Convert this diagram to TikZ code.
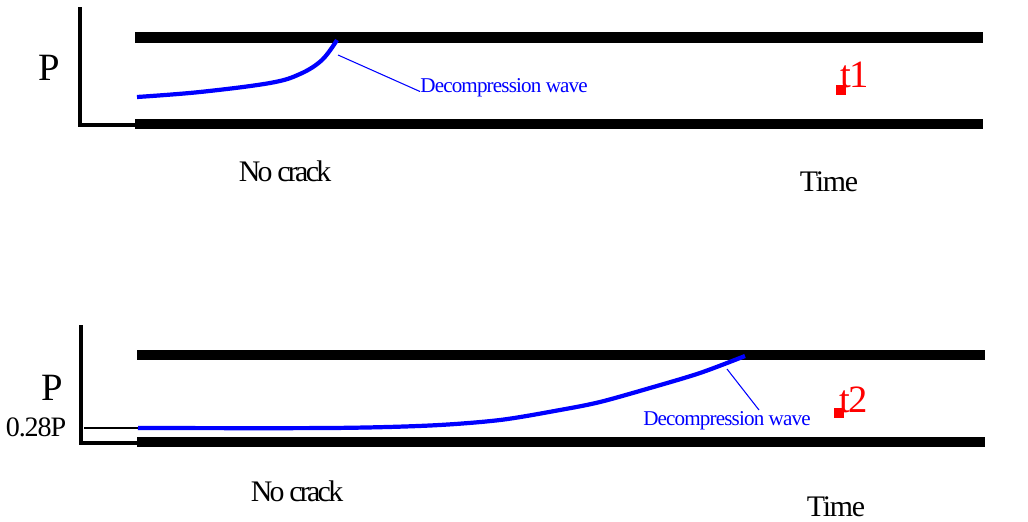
\documentclass[tikz,border=0pt]{standalone}
\usepackage{fontspec}
\setmainfont{Liberation Serif}[LetterSpace=-4]

\tikzset{
  pipe/.style={line width=6.2pt},
  axis/.style={line width=2.1pt},
  wave/.style={blue, line width=2.4pt},
  lead/.style={blue, line width=0.6pt},
  lbl/.style={inner sep=0pt, font=\fontsize{17}{17}\selectfont},
  nclbl/.style={inner sep=0pt, font=\fontsize{17}{17}\selectfont\addfontfeatures{LetterSpace=-9}},
  wavelbl/.style={inner sep=0pt, blue, font=\fontsize{12}{12}\selectfont},
  tlbl/.style={inner sep=0pt, red, font=\fontsize{22}{22}\selectfont},
  plbl/.style={inner sep=0pt, font=\fontsize{22}{22}\selectfont}
}

\begin{document}
\begin{tikzpicture}[x=0.02cm, y=-0.02cm]
  \useasboundingbox (0,0) rectangle (1028,521);

  \draw[axis] (80,7) |- (136,125);
  \draw[pipe] (135,37.5) -- (983,37.5);
  \draw[pipe] (135,124) -- (983,124);
  \draw[wave] plot[smooth, tension=0.6] coordinates
    {(137,97) (200,92) (270,83) (300,74) (322,60) (337,40)};
  \node[plbl] (p1) at (49,68) {P};
  \node[wavelbl, anchor=west] (dw1) at (420,88) {Decompression wave};
  \coordinate (w1) at (338,55);
  \draw[lead] (w1) -- ([yshift=-2pt]dw1.west);
  \fill[red] (836,85) rectangle (846,95);
  \node[tlbl] (t1) at (855,75) {t1};
  \node[nclbl] (nc1) at (285,171) {No crack};
  \node[lbl] (time1) at (829,182) {Time};

  \draw[axis] (81,325) |- (138,443);
  \draw[pipe] (137,355) -- (985,355);
  \draw[pipe] (137,442) -- (985,442);
  \draw[line width=0.6pt] (84,428) -- (140,428);
  \draw[wave] plot[smooth, tension=0.5] coordinates
    {(138,428) (330,428) (430,425.5) (500,420) (560,410) (600,402) (650,388) (700,373) (745,356)};
  \node[plbl] (p2) at (52,388) {P};
  \node[lbl, font=\fontsize{16}{16}\selectfont] (lvl) at (36,427) {0.28P};
  \node[wavelbl] (dw2) at (727,421) {Decompression wave};
  \coordinate (w2) at (727,369);
  \coordinate (w2end) at (759,410);
  \draw[lead] (w2) -- (w2end);
  \fill[red] (834,408) rectangle (844,418);
  \node[tlbl] (t2) at (854,400) {t2};
  \node[nclbl] (nc2) at (297,491) {No crack};
  \node[lbl] (time2) at (836,507) {Time};
\end{tikzpicture}
\end{document}
